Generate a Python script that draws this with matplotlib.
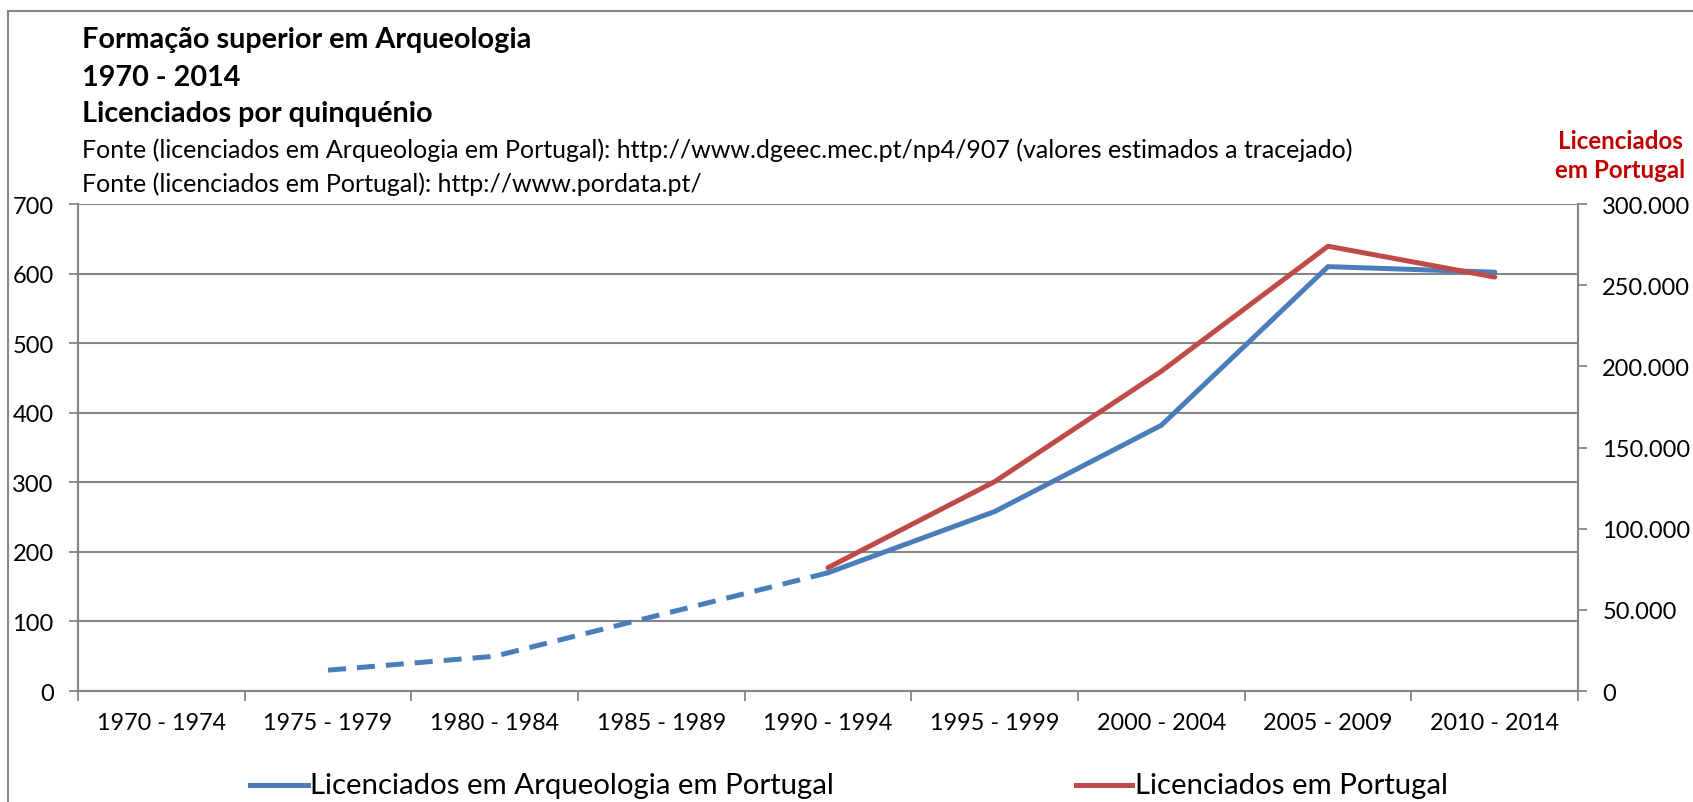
import matplotlib
matplotlib.use("Agg")
import matplotlib.pyplot as plt
from matplotlib.ticker import FuncFormatter, FixedLocator

plt.rcParams['font.family'] = ['Lato', 'DejaVu Sans']

# data
periodos = ["1970 - 1974", "1975 - 1979", "1980 - 1984", "1985 - 1989", "1990 - 1994",
            "1995 - 1999", "2000 - 2004", "2005 - 2009", "2010 - 2014"]
arq_estimado = [None, 30, 50, 110, 170, None, None, None, None]
arq = [None, None, None, None, 170, 258, 382, 610, 602]
portugal = [None, None, None, None, 76000, 129000, 197000, 274000, 255000]

azul = "#4a7ebb"
vermelho = "#be4b48"
cinza = "#868686"

fig = plt.figure(figsize=(16.93, 8.03), dpi=100)
ax = fig.add_axes([0.0461, 0.1382, 0.886, 0.6065])
ax2 = ax.twinx()

xc = [i + 0.5 for i in range(len(periodos))]

def pares(vals):
    xs = [x for x, v in zip(xc, vals) if v is not None]
    ys = [v for v in vals if v is not None]
    return xs, ys

x1, y1 = pares(arq_estimado)
ax.plot(x1, y1, color=azul, lw=3.6, linestyle=(0, (3.6, 2.2)), zorder=3)
x2, y2 = pares(arq)
ax.plot(x2, y2, color=azul, lw=3.6, solid_capstyle='round', zorder=3)
x3, y3 = pares(portugal)
ax2.plot(x3, y3, color=vermelho, lw=3.6, solid_capstyle='round', zorder=3)

ax.set_xlim(0, len(periodos))
ax.set_ylim(0, 700)
ax2.set_ylim(0, 300000)
ax.set_yticks(range(0, 701, 100))
ax2.set_yticks(range(0, 300001, 50000))
ax2.yaxis.set_major_formatter(FuncFormatter(lambda v, p: f"{int(v):,}".replace(",", ".")))

ax.xaxis.set_major_locator(FixedLocator(range(len(periodos) + 1)))
ax.set_xticklabels([])
ax.xaxis.set_minor_locator(FixedLocator(xc))
ax.set_xticklabels(periodos, minor=True)
ax.tick_params(axis='x', which='minor', length=0, pad=15, labelsize=16.8)
ax.tick_params(axis='x', which='major', length=7, color=cinza, width=1.3)
ax.tick_params(axis='y', length=6.5, color=cinza, width=1.3, labelsize=17, pad=11)
ax2.tick_params(axis='y', length=6.5, color=cinza, width=1.3, labelsize=17, pad=11)

ax.grid(axis='y', color=cinza, lw=1.5)
for a in (ax, ax2):
    a.spines['top'].set_visible(False)
    for s in ('left', 'right', 'bottom'):
        a.spines[s].set_color(cinza)
        a.spines[s].set_linewidth(1.5)

# moldura
fig.add_artist(plt.Line2D([8 / 1693, 8 / 1693], [0, 1 - 12 / 803], color=cinza, lw=1.5))
fig.add_artist(plt.Line2D([8 / 1693, 1], [1 - 12 / 803, 1 - 12 / 803], color=cinza, lw=1.5))

# titulos
fig.text(82 / 1693, 1 - 40 / 803, "Formação superior em Arqueologia", fontsize=20.7, fontweight='bold', va='center')
fig.text(82 / 1693, 1 - 78 / 803, "1970 - 2014", fontsize=20.7, fontweight='bold', va='center')
fig.text(82 / 1693, 1 - 114 / 803, "Licenciados por quinquénio", fontsize=20.7, fontweight='bold', va='center')
fig.text(82 / 1693, 1 - 150 / 803,
         "Fonte (licenciados em Arqueologia em Portugal): http://www.dgeec.mec.pt/np4/907 (valores estimados a tracejado)",
         fontsize=18, va='center')
fig.text(82 / 1693, 1 - 184 / 803, "Fonte (licenciados em Portugal): http://www.pordata.pt/",
         fontsize=18, va='center')
fig.text(1620 / 1693, 1 - 156 / 803, "Licenciados\nem Portugal", color="#c00000", fontsize=17.4,
         fontweight='bold', ha='center', va='center', linespacing=1.3)

# legenda
fig.add_artist(plt.Line2D([250 / 1693, 308 / 1693], [1 - 786 / 803] * 2, color=azul, lw=3.6))
fig.text(310 / 1693, 1 - 786 / 803, "Licenciados em Arqueologia em Portugal", fontsize=21.2, va='center')
fig.add_artist(plt.Line2D([1076 / 1693, 1132 / 1693], [1 - 786 / 803] * 2, color=vermelho, lw=3.6))
fig.text(1135 / 1693, 1 - 786 / 803, "Licenciados em Portugal", fontsize=21.2, va='center')

fig.savefig("out.png", dpi=100)
